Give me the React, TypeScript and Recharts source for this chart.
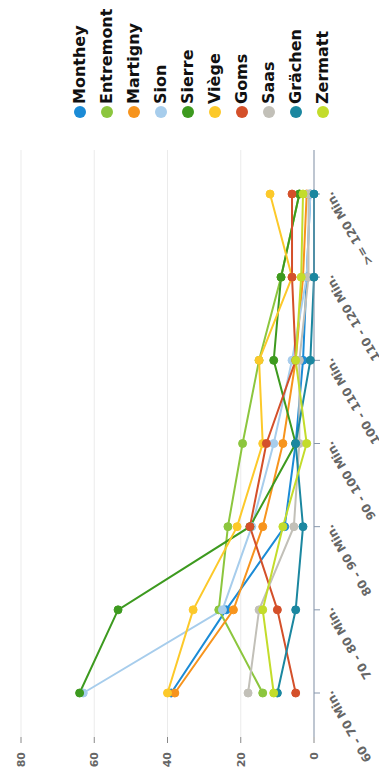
import { LineChart, Line, XAxis, YAxis, CartesianGrid } from "recharts";

// travel time classes (x axis)
const categories = [
  "60 - 70 Min.",
  "70 - 80 Min.",
  "80 - 90 Min.",
  "90 - 100 Min.",
  "100 - 110 Min.",
  "110 - 120 Min.",
  ">= 120 Min.",
];

const monthey = [39, 24, 8, 5, 3, 2, 1];
const entremont = [14, 26, 23.5, 19.5, 15, 9, 4];
const martigny = [38, 22, 14, 8.5, 5, 3, 2];
const sion = [63, 25, 17, 11, 6, 2, 1];
const sierre = [64, 53.5, 17.5, 5, 11, 9, 4];
const viege = [40, 33, 21, 14, 15, 6, 12];
const goms = [5, 10, 17.5, 13, 5, 6, 6];
const saas = [18, 15, 5.5, 4, 4, 1.5, 1.5];
const grachen = [10, 5, 3, 5, 1, 0, 0];
const zermatt = [11, 14, 8.5, 2, 5, 3.5, 3];

const yTicks = [0, 20, 40, 60, 80];

const series = [
  { name: "Monthey", values: monthey, color: "#1b8bd6" },
  { name: "Entremont", values: entremont, color: "#8cc63e" },
  { name: "Martigny", values: martigny, color: "#f7941d" },
  { name: "Sion", values: sion, color: "#a7cdec" },
  { name: "Sierre", values: sierre, color: "#3d9a1f" },
  { name: "Viège", values: viege, color: "#fcc92a" },
  { name: "Goms", values: goms, color: "#d4502a" },
  { name: "Saas", values: saas, color: "#c2c0b8" },
  { name: "Grächen", values: grachen, color: "#1b87a0" },
  { name: "Zermatt", values: zermatt, color: "#c3dc2b" },
];

const chartData = categories.map((cat, i) => {
  const row: any = { cat };
  series.forEach(s => {
    row[s.name] = s.values[i];
  });
  return row;
});

const FONT = "'DejaVu Sans', Verdana, sans-serif";

// rotated category labels, ending at the tick
const CategoryTick = ({ x, y, payload }: any) => {
  const ax = x + 3;
  const ay = y + 10;
  return (
    <text
      x={ax}
      y={ay}
      textAnchor="end"
      transform={`rotate(-30 ${ax} ${ay})`}
      fontFamily={FONT}
      fontSize={12}
      fontWeight="bold"
      fill="#666"
    >
      {payload.value}
    </text>
  );
};

export default function App() {
  return (
    <div style={{ position: "absolute", left: 0, top: 0, width: 379, height: 771, overflow: "hidden", background: "#fff" }}>
      {/* chart is drawn lying on its side */}
      <div
        style={{
          position: "relative",
          width: 771,
          height: 379,
          transformOrigin: "0 0",
          transform: "translate(0px, 771px) rotate(-90deg)",
        }}
      >
        <LineChart
          width={771}
          height={379}
          data={chartData}
          margin={{ top: 21, right: 150, bottom: 0, left: 0 }}
        >
          <CartesianGrid vertical={false} stroke="#ebebeb" />
          <XAxis
            dataKey="cat"
            height={65}
            padding={{ left: 44, right: 44 }}
            interval={0}
            tickSize={6}
            stroke="#8797ad"
            tick={<CategoryTick />}
          />
          <YAxis
            width={34}
            domain={[0, 80]}
            ticks={yTicks}
            axisLine={false}
            tickSize={6}
            tickMargin={9}
            tickLine={{ stroke: "#888" }}
            tick={{ fontFamily: FONT, fontSize: 11, fontWeight: "bold", fill: "#666" }}
          />
          {series.map(s => (
            <Line
              key={s.name}
              type="linear"
              dataKey={s.name}
              stroke={s.color}
              strokeWidth={2}
              dot={{ r: 4, fill: s.color, stroke: s.color, strokeWidth: 1 }}
              isAnimationActive={false}
            />
          ))}
        </LineChart>
        <div style={{ position: "absolute", left: 653, top: 66, fontFamily: FONT }}>
          {series.map(s => (
            <div key={s.name} style={{ display: "flex", alignItems: "center", height: 27 }}>
              <span
                style={{ width: 12, height: 12, borderRadius: 6, background: s.color, display: "inline-block" }}
              />
              <span style={{ marginLeft: 2, fontSize: 16, fontWeight: "bold", color: "#111", lineHeight: 1 }}>
                {s.name}
              </span>
            </div>
          ))}
        </div>
      </div>
    </div>
  );
}
